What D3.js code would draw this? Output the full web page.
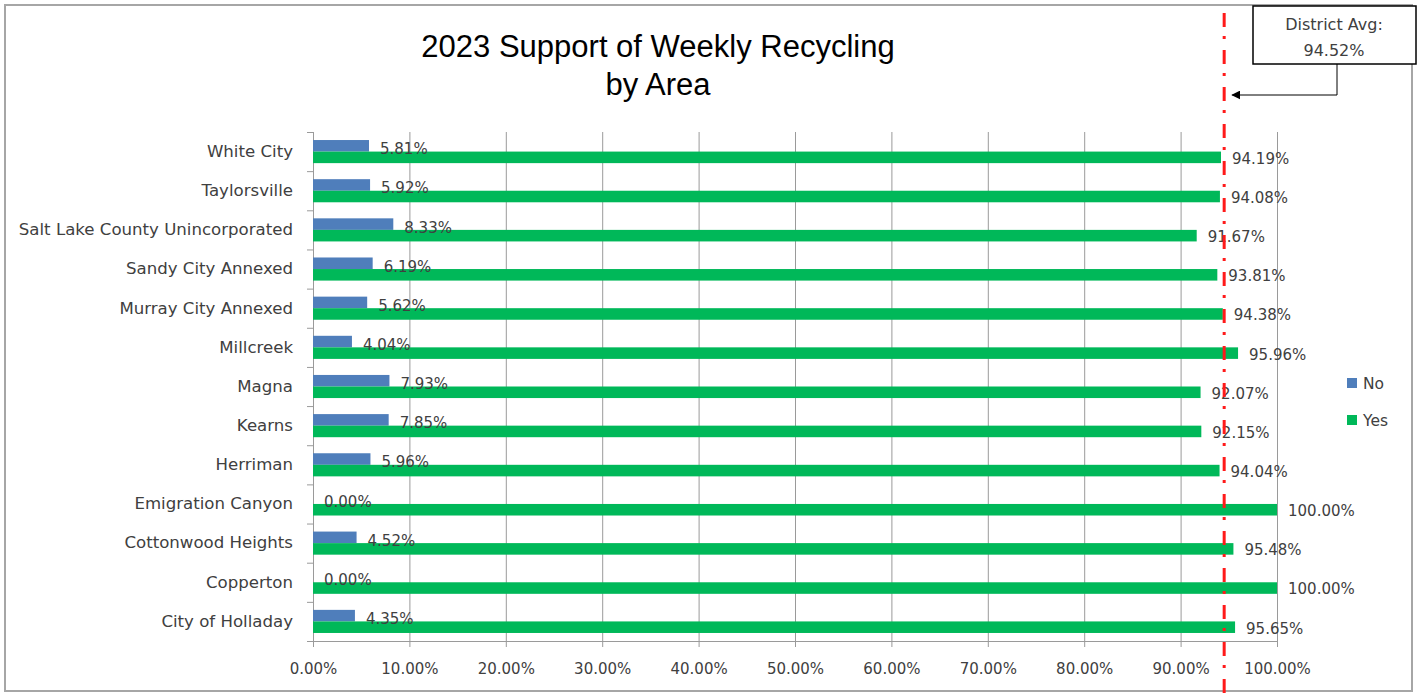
<!DOCTYPE html>
<html>
<head>
<meta charset="utf-8">
<script src="https://cdn.jsdelivr.net/npm/d3@7"></script>
<style>
	body { margin: 0; background: #fff; }
	svg text { font-family: "DejaVu Sans", sans-serif; fill: #404040; }
</style>
</head>
<body>
<div id="chart"></div>
<script>
var width = 1424,
	height = 696;

// data, top to bottom
var areas = ["White City", "Taylorsville", "Salt Lake County Unincorporated", "Sandy City Annexed",
	"Murray City Annexed", "Millcreek", "Magna", "Kearns", "Herriman", "Emigration Canyon",
	"Cottonwood Heights", "Copperton", "City of Holladay"];
var noValues = [5.81, 5.92, 8.33, 6.19, 5.62, 4.04, 7.93, 7.85, 5.96, 0.00, 4.52, 0.00, 4.35];
var yesValues = [94.19, 94.08, 91.67, 93.81, 94.38, 95.96, 92.07, 92.15, 94.04, 100.00, 95.48, 100.00, 95.65];
var seriesNames = ["No", "Yes"];
var seriesColors = ["#4F7EBB", "#00B859"];
var xTicks = [0, 10, 20, 30, 40, 50, 60, 70, 80, 90, 100];
var districtAvg = 94.52;
var titleLines = ["2023 Support of Weekly Recycling", "by Area"];

var svg = d3.select("#chart").append("svg")
	.attr("width", width)
	.attr("height", height);

// outer chart border
svg.append("rect")
	.attr("x", 5).attr("y", 5)
	.attr("width", 1407).attr("height", 686)
	.attr("fill", "#fff")
	.attr("stroke", "#a6a6a6")
	.attr("stroke-width", 2);

var plotTop = 132, plotBottom = 641, plotLeft = 313, plotRight = 1277;

var x = d3.scaleLinear().domain([0, 100]).range([plotLeft, plotRight]);
var y = d3.scaleBand().domain(areas).range([plotTop, plotBottom])
	.paddingInner(0.41).paddingOuter(0.205);
var ySub = d3.scaleBand().domain(seriesNames).range([0, y.bandwidth()]);
var color = d3.scaleOrdinal().domain(seriesNames).range(seriesColors);

var fmt = function (v) { return d3.format(".2f")(v) + "%"; };

// title
svg.append("g").selectAll("text").data(titleLines).enter().append("text")
	.attr("x", 658)
	.attr("y", function (d, i) { return 57 + i * 38; })
	.attr("text-anchor", "middle")
	.style("font-family", "'Liberation Sans', Arial, sans-serif")
	.style("font-size", "31px")
	.style("fill", "#000")
	.text(function (d) { return d; });

// vertical gridlines
var grid = svg.append("g")
	.attr("transform", "translate(0," + plotBottom + ")")
	.call(d3.axisBottom(x).tickValues(xTicks).tickSize(-(plotBottom - plotTop)).tickFormat(""));
grid.select(".domain").remove();
grid.selectAll(".tick line").attr("stroke", "#9a9a9a");

// x axis
var gX = svg.append("g")
	.attr("transform", "translate(0," + plotBottom + ")")
	.call(d3.axisBottom(x).tickValues(xTicks).tickSize(6).tickPadding(16).tickFormat(fmt));
gX.select(".domain").attr("stroke", "#9a9a9a");
gX.selectAll(".tick line").attr("stroke", "#9a9a9a");
gX.selectAll(".tick text").style("font-size", "15px").style("fill", "#404040");

// y axis: boundary ticks
var yEdges = d3.scaleLinear().domain([0, areas.length]).range([plotTop, plotBottom]);
var gYEdges = svg.append("g")
	.attr("transform", "translate(" + plotLeft + ",0)")
	.call(d3.axisLeft(yEdges).tickValues(d3.range(areas.length + 1)).tickSize(6).tickFormat(""));
gYEdges.select(".domain").attr("stroke", "#9a9a9a");
gYEdges.selectAll(".tick line").attr("stroke", "#9a9a9a");

// y axis: category labels
var gY = svg.append("g")
	.attr("transform", "translate(" + plotLeft + ",0)")
	.call(d3.axisLeft(y).tickSize(0).tickPadding(20));
gY.select(".domain").remove();
gY.selectAll(".tick text").style("font-size", "16.6px").style("fill", "#404040");

// bars
var rows = areas.map(function (a, i) {
	return { area: a, values: [{ key: "No", v: noValues[i] }, { key: "Yes", v: yesValues[i] }] };
});

var groups = svg.append("g").selectAll("g.area").data(rows).enter().append("g")
	.attr("class", "area")
	.attr("transform", function (d) { return "translate(0," + y(d.area) + ")"; });

groups.selectAll("rect").data(function (d) { return d.values; }).enter().append("rect")
	.attr("x", x(0))
	.attr("y", function (d) { return ySub(d.key); })
	.attr("width", function (d) { return x(d.v) - x(0); })
	.attr("height", ySub.bandwidth())
	.attr("fill", function (d) { return color(d.key); });

groups.selectAll("text.lbl").data(function (d) { return d.values; }).enter().append("text")
	.attr("class", "lbl")
	.attr("x", function (d) { return x(d.v) + 11; })
	.attr("y", function (d) { return ySub(d.key) + ySub.bandwidth() / 2 + (d.key === "No" ? 3 : 1); })
	.attr("dy", "0.36em")
	.style("font-size", "15px")
	.text(function (d) { return fmt(d.v); });

// legend
var legend = svg.append("g").selectAll("g").data(seriesNames).enter().append("g")
	.attr("transform", function (d, i) { return "translate(1347," + (378 + i * 37) + ")"; });
legend.append("rect").attr("width", 10).attr("height", 10)
	.attr("fill", function (d) { return color(d); });
legend.append("text").attr("x", 16).attr("y", 5).attr("dy", "0.36em")
	.style("font-size", "15.5px")
	.text(function (d) { return d; });

// district average line
svg.append("line")
	.attr("x1", x(districtAvg)).attr("x2", x(districtAvg))
	.attr("y1", 13).attr("y2", height)
	.attr("stroke", "#ff1a1a")
	.attr("stroke-width", 3)
	.attr("stroke-dasharray", "14,9,3,11");

// callout box + arrow
svg.append("defs").append("marker")
	.attr("id", "arrow")
	.attr("viewBox", "0 0 10 10")
	.attr("refX", 9).attr("refY", 5)
	.attr("markerWidth", 9).attr("markerHeight", 9)
	.attr("markerUnits", "userSpaceOnUse")
	.attr("orient", "auto")
	.append("path").attr("d", "M0,0L10,5L0,10Z").attr("fill", "#000");

svg.append("path")
	.attr("d", "M1337,64V95H" + (x(districtAvg) + 8))
	.attr("fill", "none")
	.attr("stroke", "#000")
	.attr("stroke-width", 1)
	.attr("marker-end", "url(#arrow)");

svg.append("rect")
	.attr("x", 1253).attr("y", 6)
	.attr("width", 163).attr("height", 58)
	.attr("fill", "#fff")
	.attr("stroke", "#000")
	.attr("stroke-width", 1.5);

svg.append("g").selectAll("text").data(["District Avg:", fmt(districtAvg)]).enter().append("text")
	.attr("x", 1334)
	.attr("y", function (d, i) { return 24 + i * 26; })
	.attr("dy", "0.36em")
	.attr("text-anchor", "middle")
	.style("font-size", "16px")
	.text(function (d) { return d; });
</script>
</body>
</html>
